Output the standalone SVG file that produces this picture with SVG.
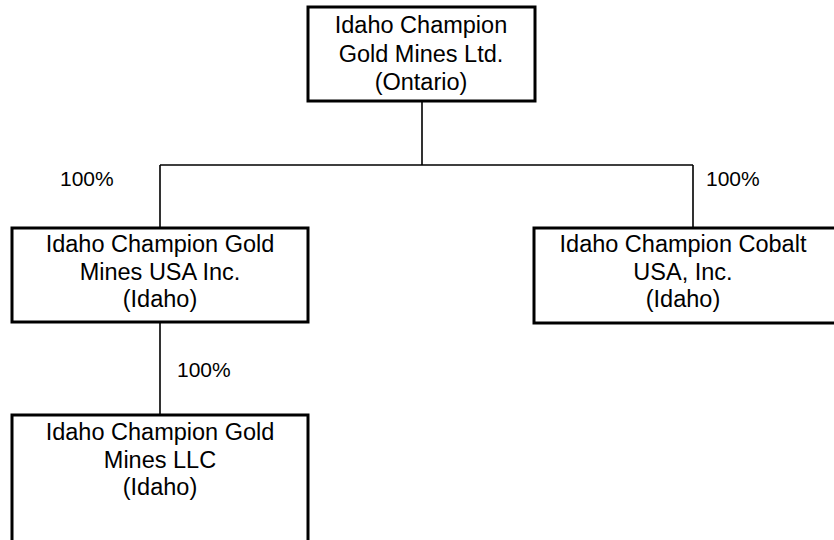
<svg xmlns="http://www.w3.org/2000/svg" width="834" height="540" viewBox="0 0 834 540">
<style>
.box{fill:#fff;stroke:#000;stroke-width:3}
.t{font-family:"Liberation Sans",Arial,sans-serif;font-size:23.5px;fill:#000;text-anchor:middle}
.p{font-family:"Liberation Sans",Arial,sans-serif;font-size:21px;fill:#000}
.c{fill:none;stroke:#000;stroke-width:1.6}
</style>
<rect width="834" height="540" fill="#fff"/>
<g id="connectors">
<path class="c" d="M422 101 V165 M160 165 H693 M160 165 V228 M693 165 V228 M160 322 V415"/>
<text class="p" x="60" y="186">100%</text>
<text class="p" x="706" y="186">100%</text>
<text class="p" x="177" y="377">100%</text>
</g>
<g id="parent">
<rect class="box" x="308" y="7" width="227" height="94"/>
<text class="t" x="421" y="33">Idaho Champion</text>
<text class="t" x="421" y="62">Gold Mines Ltd.</text>
<text class="t" x="421" y="90">(Ontario)</text>
</g>
<g id="usa">
<rect class="box" x="12" y="228" width="296" height="94"/>
<text class="t" x="160" y="252">Idaho Champion Gold</text>
<text class="t" x="160" y="280">Mines USA Inc.</text>
<text class="t" x="160" y="307">(Idaho)</text>
</g>
<g id="cobalt">
<rect class="box" x="534" y="228" width="310" height="95"/>
<text class="t" x="683" y="252">Idaho Champion Cobalt</text>
<text class="t" x="683" y="280">USA, Inc.</text>
<text class="t" x="683" y="307">(Idaho)</text>
</g>
<g id="llc">
<rect class="box" x="12" y="415" width="296" height="130"/>
<text class="t" x="160" y="440">Idaho Champion Gold</text>
<text class="t" x="160" y="468">Mines LLC</text>
<text class="t" x="160" y="495">(Idaho)</text>
</g>
</svg>
